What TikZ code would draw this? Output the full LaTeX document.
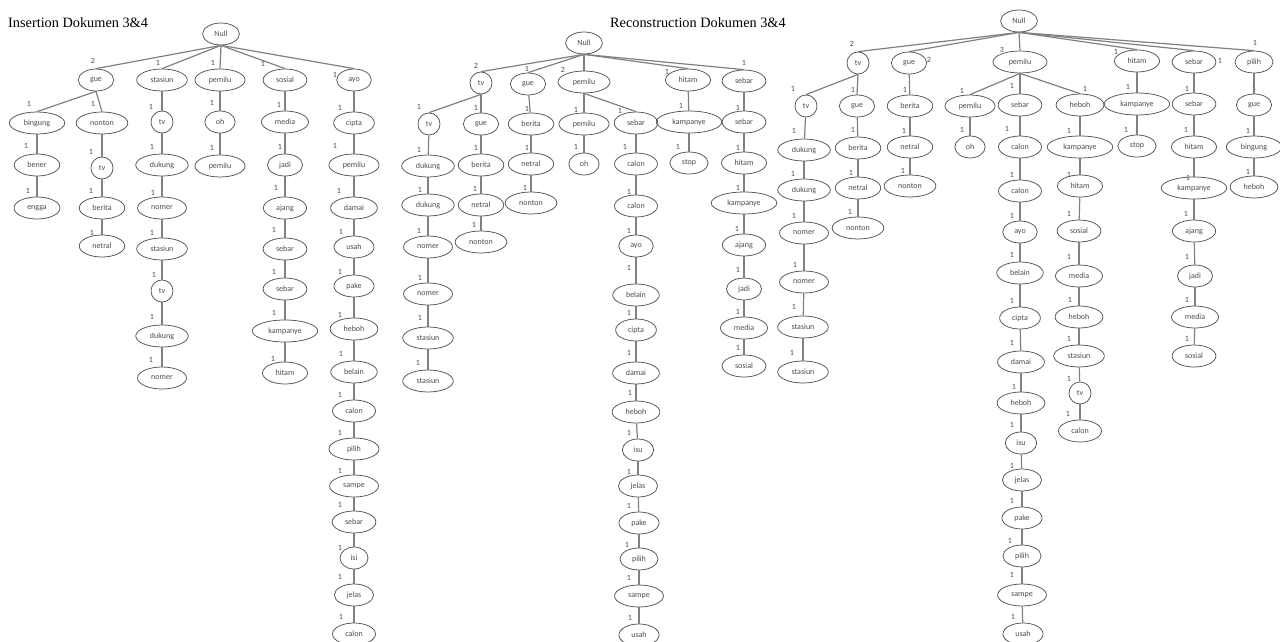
\documentclass[tikz,border=0pt]{standalone}
\usepackage{fontspec}
\setmainfont{Liberation Serif}
\newfontfamily\wordfam{Carlito}
\newcommand{\wordfont}{\wordfam\fontsize{8}{9}\selectfont}
\newcommand{\headfont}{\rmfamily\fontsize{14.3}{16}\selectfont}
\usetikzlibrary{shapes.geometric}
\tikzset{
  word/.style={ellipse, draw=gray!65!black, line width=0.75pt, text=black!70,
    font=\wordfont, inner xsep=6.5pt, inner ysep=1pt, minimum height=22pt},
  tight/.style={word, inner xsep=2pt, minimum width=22pt},
  wt/.style={text=black!70, font=\wordfont, inner sep=0pt},
  link/.style={draw=gray, line width=1.2pt},
  heading/.style={font=\headfont, anchor=base west, inner sep=0pt}
}
\begin{document}
\begin{tikzpicture}[x=1pt, y=-1pt]
	\useasboundingbox (0, 0) rectangle (1280, 642);

	\node (ititle) [heading] at (8, 28) {Insertion Dokumen 3\&4};
	\node (rtitle) [heading] at (610, 28) {Reconstruction Dokumen 3\&4};

	% insertion
	\node (i0) [word] at (221, 34) {Null};
	\node (i1) [word] at (96, 80) {gue};        \node (wi1) [wt] at (93, 61) {2};
	\node (i2) [word] at (162, 80) {stasiun};   \node (wi2) [wt] at (158, 63) {1};
	\node (i3) [word] at (220, 80) {pemilu};    \node (wi3) [wt] at (213, 63) {1};
	\node (i4) [word] at (285, 80) {sosial};    \node (wi4) [wt] at (263, 64) {1};
	\node (i5) [word] at (354, 80) {ayo};       \node (wi5) [wt] at (335, 75) {1};
	\node (i6) [word] at (37, 123) {bingung};   \node (wi6) [wt] at (29, 104) {1};
	\node (i7) [word] at (102, 123) {nonton};   \node (wi7) [wt] at (93, 104) {1};
	\node (i8) [tight] at (162, 122) {tv};      \node (wi8) [wt] at (151, 107) {1};
	\node (i9) [word] at (220, 122) {oh};       \node (wi9) [wt] at (212, 103) {1};
	\node (i10) [word] at (285, 122) {media};   \node (wi10) [wt] at (279, 105) {1};
	\node (i11) [word] at (354, 123) {cipta};   \node (wi11) [wt] at (340, 108) {1};
	\node (i12) [word] at (37, 165) {bener};    \node (wi12) [wt] at (26, 146) {1};
	\node (i13) [tight] at (102, 168) {tv};     \node (wi13) [wt] at (91, 152) {1};
	\node (i14) [word] at (162, 165) {dukung};  \node (wi14) [wt] at (152, 147) {1};
	\node (i15) [word] at (220, 166) {pemilu};  \node (wi15) [wt] at (212, 148) {1};
	\node (i16) [word] at (285, 165) {jadi};    \node (wi16) [wt] at (280, 147) {1};
	\node (i17) [word] at (354, 165) {pemilu};  \node (wi17) [wt] at (335, 146) {1};
	\node (i18) [word] at (37, 208) {engga};    \node (wi18) [wt] at (28, 191) {1};
	\node (i19) [word] at (102, 208) {berita};  \node (wi19) [wt] at (91, 191) {1};
	\node (i20) [word] at (162, 208) {nomer};   \node (wi20) [wt] at (153, 193) {1};
	\node (i21) [word] at (285, 208) {ajang};   \node (wi21) [wt] at (276, 188) {1};
	\node (i22) [word] at (354, 208) {damai};   \node (wi22) [wt] at (339, 191) {1};
	\node (i23) [word] at (102, 246) {netral};  \node (wi23) [wt] at (92, 233) {1};
	\node (i24) [word] at (162, 249) {stasiun}; \node (wi24) [wt] at (152, 233) {1};
	\node (i25) [word] at (285, 249) {sebar};   \node (wi25) [wt] at (274, 230) {1};
	\node (i26) [word] at (354, 247) {usah};    \node (wi26) [wt] at (341, 232) {1};
	\node (i27) [tight] at (162, 291) {tv};     \node (wi27) [wt] at (154, 275) {1};
	\node (i28) [word] at (285, 289) {sebar};   \node (wi28) [wt] at (274, 272) {1};
	\node (i29) [word] at (354, 286) {pake};    \node (wi29) [wt] at (340, 272) {1};
	\node (i30) [word] at (162, 336) {dukung};  \node (wi30) [wt] at (152, 317) {1};
	\node (i31) [word] at (285, 331) {kampanye};\node (wi31) [wt] at (274, 313) {1};
	\node (i32) [word] at (354, 329) {heboh};   \node (wi32) [wt] at (340, 315) {1};
	\node (i33) [word] at (162, 378) {nomer};   \node (wi33) [wt] at (151, 360) {1};
	\node (i34) [word] at (285, 373) {hitam};   \node (wi34) [wt] at (273, 359) {1};
	\node (i35) [word] at (354, 372) {belain};  \node (wi35) [wt] at (341, 354) {1};
	\node (i36) [word] at (354, 411) {calon};   \node (wi36) [wt] at (340, 395) {1};
	\node (i37) [word, minimum width=50pt] at (354, 449) {pilih}; \node (wi37) [wt] at (340, 433) {1};
	\node (i38) [word] at (354, 486) {sampe};   \node (wi38) [wt] at (340, 471) {1};
	\node (i39) [word] at (354, 522) {sebar};   \node (wi39) [wt] at (340, 505) {1};
	\node (i40) [word] at (354, 558) {isi};     \node (wi40) [wt] at (340, 548) {1};
	\node (i41) [word] at (354, 595) {jelas};   \node (wi41) [wt] at (340, 577) {1};
	\node (i42) [word] at (354, 634) {calon};   \node (wi42) [wt] at (341, 617) {1};

	\path[link]
	(i0.south) edge (i1.north)
	(i0.south) edge (i2.north)
	(i0.south) edge (i3.north)
	(i0.south) edge (i4.north)
	(i0.south) edge (i5.north)
	(i1.south) edge (i6.north)
	(i1.south) edge (i7.north)
	(i2) edge (i8)   (i3) edge (i9)   (i4) edge (i10)  (i5) edge (i11)
	(i6) edge (i12)  (i7) edge (i13)  (i8) edge (i14)  (i9) edge (i15)
	(i10) edge (i16) (i11) edge (i17) (i12) edge (i18) (i13) edge (i19)
	(i14) edge (i20) (i16) edge (i21) (i17) edge (i22) (i19) edge (i23)
	(i20) edge (i24) (i21) edge (i25) (i22) edge (i26) (i24) edge (i27)
	(i25) edge (i28) (i26) edge (i29) (i27) edge (i30) (i28) edge (i31)
	(i29) edge (i32) (i30) edge (i33) (i31) edge (i34) (i32) edge (i35)
	(i35) edge (i36) (i36) edge (i37) (i37) edge (i38) (i38) edge (i39)
	(i39) edge (i40) (i40) edge (i41) (i41) edge (i42);

	% reconstruction
	\node (r0) [word] at (584, 43) {Null};
	\node (r1) [tight] at (481, 83) {tv};       \node (wr1) [wt] at (476, 66) {2};
	\node (r2) [word] at (528, 84) {gue};       \node (wr2) [wt] at (527, 69) {1};
	\node (r3) [word, minimum width=52pt] at (584, 82) {pemilu}; \node (wr3) [wt] at (563, 70) {2};
	\node (r4) [word] at (688, 80) {hitam};     \node (wr4) [wt] at (667, 72) {1};
	\node (r5) [word] at (744, 81) {sebar};     \node (wr5) [wt] at (744, 63) {1};
	\node (r6) [tight] at (429, 124) {tv};      \node (wr6) [wt] at (419, 107) {1};
	\node (r7) [word] at (481, 124) {gue};      \node (wr7) [wt] at (476, 108) {1};
	\node (r8) [word] at (531, 124) {berita};   \node (wr8) [wt] at (527, 109) {1};
	\node (r9) [word] at (584, 124) {pemilu};   \node (wr9) [wt] at (576, 110) {1};
	\node (r10) [word] at (636, 123) {sebar};   \node (wr10) [wt] at (620, 111) {1};
	\node (r11) [word] at (689, 122) {kampanye};\node (wr11) [wt] at (681, 106) {1};
	\node (r12) [word] at (744, 122) {sebar};   \node (wr12) [wt] at (738, 108) {1};
	\node (r13) [word] at (428, 166) {dukung};  \node (wr13) [wt] at (419, 150) {1};
	\node (r14) [word] at (481, 165) {berita};  \node (wr14) [wt] at (476, 148) {1};
	\node (r15) [word] at (531, 164) {netral};  \node (wr15) [wt] at (527, 148) {1};
	\node (r16) [word] at (584, 164) {oh};      \node (wr16) [wt] at (576, 147) {1};
	\node (r17) [word] at (636, 164) {calon};   \node (wr17) [wt] at (625, 147) {1};
	\node (r18) [word] at (689, 163) {stop};    \node (wr18) [wt] at (678, 147) {1};
	\node (r19) [word] at (744, 163) {hitam};   \node (wr19) [wt] at (738, 148) {1};
	\node (r20) [word] at (428, 205) {dukung};  \node (wr20) [wt] at (420, 190) {1};
	\node (r21) [word] at (481, 205) {netral};  \node (wr21) [wt] at (475, 189) {1};
	\node (r22) [word] at (531, 203) {nonton};  \node (wr22) [wt] at (525, 188) {1};
	\node (r23) [word] at (636, 206) {calon};   \node (wr23) [wt] at (629, 192) {1};
	\node (r24) [word] at (744, 203) {kampanye};\node (wr24) [wt] at (738, 188) {1};
	\node (r25) [word] at (428, 247) {nomer};   \node (wr25) [wt] at (419, 231) {1};
	\node (r26) [word] at (481, 242) {nonton};  \node (wr26) [wt] at (474, 225) {1};
	\node (r27) [word] at (636, 246) {ayo};     \node (wr27) [wt] at (629, 231) {1};
	\node (r28) [word] at (744, 245) {ajang};   \node (wr28) [wt] at (737, 229) {1};
	\node (r29) [word] at (428, 294) {nomer};   \node (wr29) [wt] at (420, 278) {1};
	\node (r30) [word] at (636, 295) {belain};  \node (wr30) [wt] at (629, 268) {1};
	\node (r31) [word] at (744, 289) {jadi};    \node (wr31) [wt] at (738, 270) {1};
	\node (r32) [word] at (428, 338) {stasiun}; \node (wr32) [wt] at (420, 318) {1};
	\node (r33) [word] at (636, 330) {cipta};   \node (wr33) [wt] at (629, 313) {1};
	\node (r34) [word] at (744, 328) {media};   \node (wr34) [wt] at (738, 312) {1};
	\node (r35) [word] at (428, 381) {stasiun}; \node (wr35) [wt] at (418, 363) {1};
	\node (r36) [word] at (636, 373) {damai};   \node (wr36) [wt] at (629, 353) {1};
	\node (r37) [word] at (744, 366) {sosial};  \node (wr37) [wt] at (738, 348) {1};
	\node (r38) [word] at (636, 412) {heboh};   \node (wr38) [wt] at (630, 393) {1};
	\node (r39) [word] at (638, 450) {isu};     \node (wr39) [wt] at (629, 433) {1};
	\node (r40) [word] at (638, 486) {jelas};   \node (wr40) [wt] at (629, 472) {1};
	\node (r41) [word] at (639, 523) {pake};    \node (wr41) [wt] at (629, 506) {1};
	\node (r42) [word] at (639, 559) {pilih};   \node (wr42) [wt] at (627, 545) {1};
	\node (r43) [word] at (639, 596) {sampe};   \node (wr43) [wt] at (629, 578) {1};
	\node (r44) [word] at (639, 635) {usah};    \node (wr44) [wt] at (630, 618) {1};

	\path[link]
	(r0.south) edge (r1.north)
	(r0.south) edge (r2.north)
	(r0.south) edge (r3.north)
	(r0.south) edge (r4.north)
	(r0.south) edge (r5.north)
	(r1.south) edge (r6.north)
	(r1.south) edge (r7.north)
	(r3.south) edge (r9.north)
	(r3.south) edge (r10.north)
	(r2) edge (r8)   (r4) edge (r11)  (r5) edge (r12)  (r6) edge (r13)
	(r7) edge (r14)  (r8) edge (r15)  (r9) edge (r16)  (r10) edge (r17)
	(r11) edge (r18) (r12) edge (r19) (r13) edge (r20) (r14) edge (r21)
	(r15) edge (r22) (r17) edge (r23) (r19) edge (r24) (r20) edge (r25)
	(r21) edge (r26) (r23) edge (r27) (r24) edge (r28) (r25) edge (r29)
	(r27) edge (r30) (r28) edge (r31) (r29) edge (r32) (r30) edge (r33)
	(r31) edge (r34) (r32) edge (r35) (r33) edge (r36) (r34) edge (r37)
	(r36) edge (r38) (r38) edge (r39) (r39) edge (r40) (r40) edge (r41)
	(r41) edge (r42) (r42) edge (r43) (r43) edge (r44);

	% combined
	\node (t0) [word] at (1019, 21) {Null};
	\node (t1) [tight] at (858, 63) {tv};       \node (wt1) [wt] at (852, 44) {2};
	\node (t2) [word] at (909, 63) {gue};       \node (wt2) [wt] at (929, 60) {2};
	\node (t3) [word, minimum width=54pt] at (1020, 62) {pemilu}; \node (wt3) [wt] at (1002, 50) {3};
	\node (t4) [word] at (1137, 61) {hitam};    \node (wt4) [wt] at (1116, 52) {1};
	\node (t5) [word] at (1194, 62) {sebar};    \node (wt5) [wt] at (1220, 61) {1};
	\node (t6) [word] at (1254, 62) {pilih};    \node (wt6) [wt] at (1255, 43) {1};
	\node (t7) [tight] at (806, 106) {tv};      \node (wt7) [wt] at (793, 89) {1};
	\node (t8) [word] at (857, 106) {gue};      \node (wt8) [wt] at (853, 90) {1};
	\node (t9) [word] at (910, 106) {berita};   \node (wt9) [wt] at (905, 90) {1};
	\node (t10) [word] at (970, 106) {pemilu};  \node (wt10) [wt] at (962, 91) {1};
	\node (t11) [word] at (1020, 105) {sebar};  \node (wt11) [wt] at (1012, 86) {1};
	\node (t12) [word] at (1080, 105) {heboh};  \node (wt12) [wt] at (1085, 89) {1};
	\node (t13) [word] at (1137, 104) {kampanye};\node (wt13) [wt] at (1128, 87) {1};
	\node (t14) [word] at (1194, 104) {sebar};  \node (wt14) [wt] at (1187, 89) {1};
	\node (t15) [word] at (1254, 105) {gue};    \node (wt15) [wt] at (1254, 88) {1};
	\node (t16) [word] at (804, 150) {dukung};  \node (wt16) [wt] at (794, 131) {1};
	\node (t17) [word] at (858, 148) {berita};  \node (wt17) [wt] at (853, 130) {1};
	\node (t18) [word] at (910, 147) {netral};  \node (wt18) [wt] at (904, 131) {1};
	\node (t19) [word] at (970, 147) {oh};      \node (wt19) [wt] at (962, 130) {1};
	\node (t20) [word] at (1020, 147) {calon};  \node (wt20) [wt] at (1007, 129) {1};
	\node (t21) [word] at (1080, 147) {kampanye};\node (wt21) [wt] at (1069, 131) {1};
	\node (t22) [word] at (1137, 146) {stop};   \node (wt22) [wt] at (1126, 130) {1};
	\node (t23) [word] at (1194, 147) {hitam};  \node (wt23) [wt] at (1186, 130) {1};
	\node (t24) [word] at (1254, 147) {bingung};\node (wt24) [wt] at (1248, 131) {1};
	\node (t25) [word] at (804, 190) {dukung};  \node (wt25) [wt] at (793, 174) {1};
	\node (t26) [word] at (858, 188) {netral};  \node (wt26) [wt] at (851, 173) {1};
	\node (t27) [word] at (910, 186) {nonton};  \node (wt27) [wt] at (903, 171) {1};
	\node (t28) [word] at (1020, 191) {calon};  \node (wt28) [wt] at (1012, 175) {1};
	\node (t29) [word] at (1080, 186) {hitam};  \node (wt29) [wt] at (1069, 175) {1};
	\node (t30) [word] at (1194, 188) {kampanye};\node (wt30) [wt] at (1188, 178) {1};
	\node (t31) [word] at (1254, 187) {heboh};  \node (wt31) [wt] at (1248, 172) {1};
	\node (t32) [word] at (804, 233) {nomer};   \node (wt32) [wt] at (794, 216) {1};
	\node (t33) [word] at (858, 228) {nonton};  \node (wt33) [wt] at (850, 212) {1};
	\node (t34) [word] at (1020, 232) {ayo};    \node (wt34) [wt] at (1012, 216) {1};
	\node (t35) [word] at (1079, 231) {sosial}; \node (wt35) [wt] at (1069, 214) {1};
	\node (t36) [word] at (1194, 231) {ajang};  \node (wt36) [wt] at (1186, 214) {1};
	\node (t37) [word] at (804, 282) {nomer};   \node (wt37) [wt] at (795, 265) {1};
	\node (t38) [word] at (1020, 273) {belain}; \node (wt38) [wt] at (1012, 255) {1};
	\node (t39) [word] at (1079, 276) {media};  \node (wt39) [wt] at (1069, 257) {1};
	\node (t40) [word] at (1195, 276) {jadi};   \node (wt40) [wt] at (1187, 257) {1};
	\node (t41) [word] at (803, 327) {stasiun}; \node (wt41) [wt] at (794, 307) {1};
	\node (t42) [word] at (1020, 318) {cipta};  \node (wt42) [wt] at (1012, 301) {1};
	\node (t43) [word] at (1079, 317) {heboh};  \node (wt43) [wt] at (1070, 300) {1};
	\node (t44) [word] at (1195, 317) {media};  \node (wt44) [wt] at (1187, 300) {1};
	\node (t45) [word] at (803, 372) {stasiun}; \node (wt45) [wt] at (792, 353) {1};
	\node (t46) [word] at (1021, 362) {damai};  \node (wt46) [wt] at (1012, 343) {1};
	\node (t47) [word] at (1079, 356) {stasiun};\node (wt47) [wt] at (1069, 339) {1};
	\node (t48) [word] at (1194, 356) {sosial}; \node (wt48) [wt] at (1187, 339) {1};
	\node (t49) [word] at (1021, 403) {heboh};  \node (wt49) [wt] at (1014, 387) {1};
	\node (t50) [tight] at (1080, 393) {tv};    \node (wt50) [wt] at (1069, 379) {1};
	\node (t51) [word] at (1080, 431) {calon};  \node (wt51) [wt] at (1068, 414) {1};
	\node (t52) [word] at (1021, 443) {isu};    \node (wt52) [wt] at (1012, 425) {1};
	\node (t53) [word] at (1022, 480) {jelas};  \node (wt53) [wt] at (1012, 466) {1};
	\node (t54) [word] at (1022, 518) {pake};   \node (wt54) [wt] at (1012, 501) {1};
	\node (t55) [word] at (1022, 556) {pilih};  \node (wt55) [wt] at (1010, 541) {1};
	\node (t56) [word] at (1022, 595) {sampe};  \node (wt56) [wt] at (1012, 575) {1};
	\node (t57) [word] at (1023, 634) {usah};   \node (wt57) [wt] at (1013, 617) {1};

	\path[link]
	(t0.south) edge (t1.north)
	(t0.south) edge (t2.north)
	(t0.south) edge (t3.north)
	(t0.south) edge (t4.north)
	(t0.south) edge (t5.north)
	(t0.south) edge (t6.north)
	(t1.south) edge (t7.north)
	(t1.south) edge (t8.north)
	(t3.south) edge (t10.north)
	(t3.south) edge (t11.north)
	(t3.south) edge (t12.north)
	(t2) edge (t9)   (t4) edge (t13)  (t5) edge (t14)  (t6) edge (t15)
	(t7) edge (t16)  (t8) edge (t17)  (t9) edge (t18)  (t10) edge (t19)
	(t11) edge (t20) (t12) edge (t21) (t13) edge (t22) (t14) edge (t23)
	(t15) edge (t24) (t16) edge (t25) (t17) edge (t26) (t18) edge (t27)
	(t20) edge (t28) (t21) edge (t29) (t23) edge (t30) (t24) edge (t31)
	(t25) edge (t32) (t26) edge (t33) (t28) edge (t34) (t29) edge (t35)
	(t30) edge (t36) (t32) edge (t37) (t34) edge (t38) (t35) edge (t39)
	(t36) edge (t40) (t37) edge (t41) (t38) edge (t42) (t39) edge (t43)
	(t40) edge (t44) (t41) edge (t45) (t42) edge (t46) (t43) edge (t47)
	(t44) edge (t48) (t46) edge (t49) (t47) edge (t50) (t50) edge (t51)
	(t49) edge (t52) (t52) edge (t53) (t53) edge (t54) (t54) edge (t55)
	(t55) edge (t56) (t56) edge (t57);

\end{tikzpicture}
\end{document}
